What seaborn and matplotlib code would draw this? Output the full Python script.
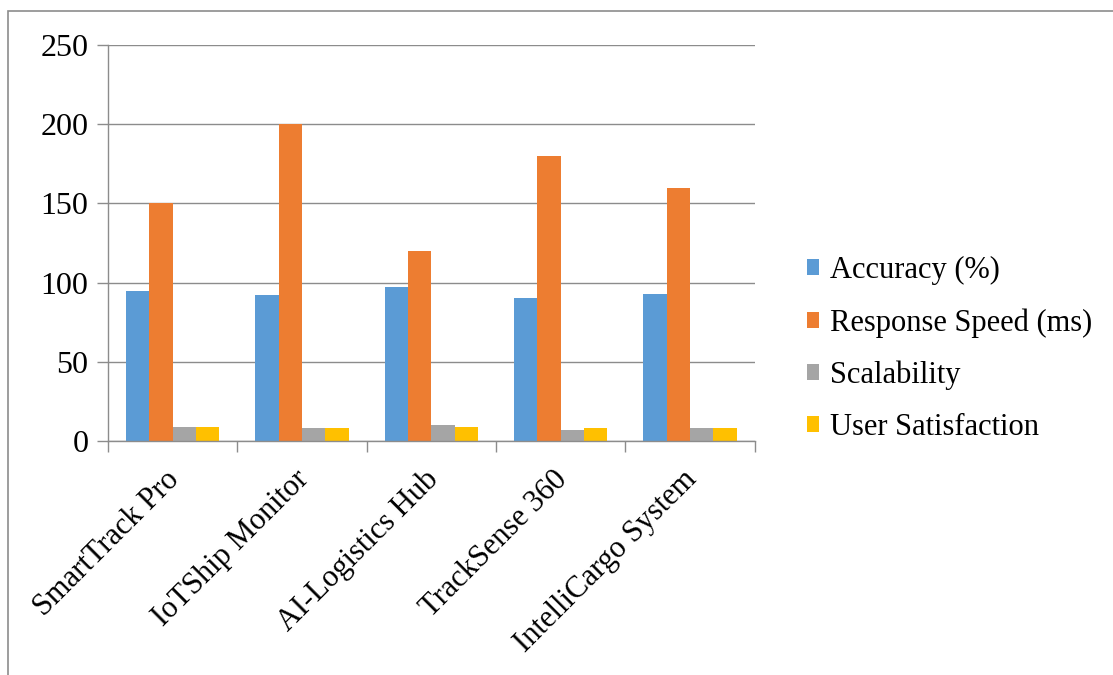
import matplotlib
matplotlib.use("Agg")
import matplotlib.pyplot as plt
from matplotlib.patches import Rectangle
from matplotlib.transforms import ScaledTranslation
import seaborn as sns
import pandas as pd

# Comparison data for the logistics tracking systems
systems = ["SmartTrack Pro", "IoTShip Monitor", "AI-Logistics Hub",
           "TrackSense 360", "IntelliCargo System"]
accuracy = [95, 92, 97, 90, 93]
response_speed = [150, 200, 120, 180, 160]
scalability = [9, 8, 10, 7, 8]
user_satisfaction = [9, 8, 9, 8, 8]

metric_names = ["Accuracy (%)", "Response Speed (ms)", "Scalability", "User Satisfaction"]
metric_values = [accuracy, response_speed, scalability, user_satisfaction]
palette = ["#5B9BD5", "#ED7D31", "#A5A5A5", "#FFC000"]
y_ticks = [0, 50, 100, 150, 200, 250]

rows = []
for name, vals in zip(metric_names, metric_values):
    for sys_name, v in zip(systems, vals):
        rows.append({"System": sys_name, "Metric": name, "Value": v})
df = pd.DataFrame(rows)

sns.set_theme(style="white")
plt.rcParams["font.family"] = ["Liberation Serif", "DejaVu Serif"]

fig = plt.figure(figsize=(11.13, 6.75), dpi=100)
ax = fig.add_axes([0.097, 0.3467, 0.581, 0.5866])

sns.barplot(data=df, x="System", y="Value", hue="Metric", order=systems,
            hue_order=metric_names, palette=palette, width=0.72, gap=0,
            saturation=1, ax=ax, legend=True, errorbar=None, linewidth=0)

grid_color = "#8C8C8C"
ax.set_ylim(0, 250)
ax.set_xlim(-0.5, len(systems) - 0.5)
ax.set_yticks(y_ticks)
ax.set_yticklabels([str(t) for t in y_ticks], fontsize=23, color="black")
ax.yaxis.grid(True, color=grid_color, linewidth=1)
ax.set_axisbelow(True)
ax.set_xlabel("")
ax.set_ylabel("")

for side in ["top", "right"]:
    ax.spines[side].set_visible(False)
for side in ["left", "bottom"]:
    ax.spines[side].set_color(grid_color)
    ax.spines[side].set_linewidth(1)

ax.tick_params(axis="y", which="major", length=8, width=1, color=grid_color,
               direction="out", left=True, pad=6)

# category boundaries carry the tick marks, labels sit at centres
ax.set_xticks([i - 0.5 for i in range(len(systems) + 1)], minor=True)
ax.tick_params(axis="x", which="minor", length=8, width=1, color=grid_color,
               direction="out", bottom=True)
ax.tick_params(axis="x", which="major", length=0, pad=20)
ax.set_xticks(range(len(systems)))
ax.set_xticklabels(systems, rotation=45, ha="right", va="top",
                   rotation_mode="anchor", fontsize=22, color="black")
shift = ScaledTranslation(-8 / 100, 4 / 100, fig.dpi_scale_trans)
for lbl in ax.get_xticklabels():
    lbl.set_transform(lbl.get_transform() + shift)

leg = ax.legend(loc="center left", bbox_to_anchor=(0.70, 0.483),
                bbox_transform=fig.transFigure, frameon=False, fontsize=22,
                handlelength=0.42, handleheight=0.42, handletextpad=0.33,
                labelspacing=0.75)
for txt in leg.get_texts():
    txt.set_color("black")

# thin outer frame around the chart area
fig.patches.append(Rectangle((8 / 1113, -0.1), 1.2, 1 - 11 / 675 + 0.1,
                             transform=fig.transFigure, fill=False,
                             edgecolor="#8C8C8C", linewidth=1.2))

fig.savefig("out.png", dpi=100, facecolor="white")
